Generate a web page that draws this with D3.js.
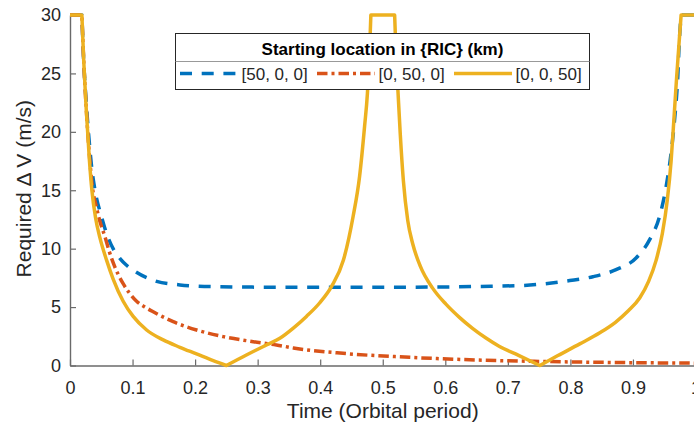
<!DOCTYPE html>
<html>
<head>
<meta charset="utf-8">
<script src="https://cdn.jsdelivr.net/npm/d3@7"></script>
<style>
  html, body { margin: 0; padding: 0; background: #fff; }
  svg { display: block; font-family: "Liberation Sans", Arial, Helvetica, sans-serif; }
</style>
</head>
<body>
<svg id="chart" width="694" height="426"></svg>
<script>
// ---- data ----
const xTicks = [0, 0.1, 0.2, 0.3, 0.4, 0.5, 0.6, 0.7, 0.8, 0.9, 1];
const yTicks = [0, 5, 10, 15, 20, 25, 30];
const seriesNames = ["[50, 0, 0]", "[0, 50, 0]", "[0, 0, 50]"];
const legendTitle = "Starting location in {RIC} (km)";
const xLabel = "Time (Orbital period)";
const yLabel = "Required \u0394 V (m/s)";

// [50, 0, 0] radial start
const timeR = [0, 0.019, 0.0215, 0.026, 0.031, 0.035, 0.04, 0.05, 0.056, 0.062, 0.07, 0.08, 0.09, 0.104, 0.1385, 0.1757, 0.229, 0.32, 0.4, 0.5, 0.6, 0.655, 0.724, 0.799, 0.836, 0.873, 0.905, 0.9265, 0.9425, 0.953, 0.961, 0.9665, 0.9717, 0.974, 0.977, 1];
const dvR   = [30, 30, 26.5, 22.5, 19, 16.8, 15, 12.8, 11.7, 10.8, 9.9, 9.15, 8.6, 8.05, 7.2, 6.9, 6.75, 6.7, 6.7, 6.7, 6.72, 6.77, 6.85, 7.27, 7.6, 8.2, 9.2, 10.75, 12.75, 15.3, 18.2, 21, 24.75, 27.6, 30, 30];

// [0, 50, 0] along-track start
const timeI = [0, 0.019, 0.022, 0.026, 0.031, 0.036, 0.042, 0.047, 0.056, 0.062, 0.069, 0.077, 0.085, 0.095, 0.1065, 0.12, 0.133, 0.165, 0.2023, 0.245, 0.293, 0.33, 0.357, 0.4366, 0.543, 0.65, 0.75, 0.85, 1];
const dvI   = [30, 30, 26, 22, 18, 15.2, 13.6, 12.5, 11.0, 9.9, 8.8, 7.8, 7.0, 6.2, 5.5, 5.0, 4.6, 3.75, 3.04, 2.47, 2.04, 1.76, 1.5, 1.04, 0.7, 0.47, 0.35, 0.27, 0.2];

// [0, 0, 50] cross-track start
const timeC = [0, 0.019, 0.022, 0.026, 0.031, 0.035, 0.041, 0.048, 0.0586, 0.069, 0.085, 0.101, 0.1225, 0.149, 0.1757, 0.2023, 0.229, 0.25, 0.282, 0.314, 0.3355, 0.357, 0.378, 0.399, 0.418, 0.437, 0.4526, 0.463, 0.471, 0.4755, 0.479, 0.481, 0.519, 0.521, 0.5245, 0.528, 0.533, 0.54, 0.548, 0.56, 0.58, 0.601, 0.623, 0.643, 0.665, 0.686, 0.718, 0.751, 0.78, 0.815, 0.847, 0.872, 0.893, 0.911, 0.925, 0.937, 0.947, 0.955, 0.961, 0.966, 0.97, 0.974, 0.977, 1];
const dvC   = [30, 30, 26, 21.9, 17.6, 15.0, 12.6, 10.9, 9.0, 7.4, 5.5, 4.2, 3.04, 2.19, 1.56, 0.99, 0.41, 0, 0.9, 1.76, 2.33, 3.2, 4.2, 5.35, 6.75, 9.0, 12.75, 16.2, 20.5, 23.3, 27, 30, 30, 27, 23.3, 19.8, 15.8, 12.4, 10.4, 8.5, 6.6, 5.25, 4.1, 3.2, 2.35, 1.65, 0.85, 0, 0.85, 1.85, 2.8, 3.7, 4.7, 5.8, 7.2, 9.0, 11.3, 14.2, 17.5, 21.5, 24.8, 27.8, 30, 30];

const colors = ["#0072BD", "#D95319", "#EDB120"];
const dashes = ["12,9.7", "10.5,4,3,4", null];

// ---- layout ----
const svg = d3.select("#chart");
const x = d3.scaleLinear().domain([0, 1]).range([70, 695.5]);
const y = d3.scaleLinear().domain([0, 30]).range([365.5, 15]);
const textColor = "#262626";
const axisColor = "#6a6a6a";

// axes (drawn beneath data)
const gx = svg.append("g").attr("transform", `translate(0,${y(0)})`)
  .call(d3.axisBottom(x).tickValues(xTicks).tickSize(-6).tickSizeOuter(0).tickPadding(16)
    .tickFormat(d3.format("~g")));
const gy = svg.append("g").attr("transform", `translate(${x(0)},0)`)
  .call(d3.axisLeft(y).tickValues(yTicks).tickSize(-6).tickSizeOuter(0).tickPadding(9));
[gx, gy].forEach(g => {
  g.select(".domain").attr("stroke", axisColor).attr("stroke-width", 1.4);
  g.selectAll(".tick line").attr("stroke", axisColor).attr("stroke-width", 1.2);
  g.selectAll(".tick text").attr("fill", textColor).attr("font-size", 18)
    .attr("font-family", "'Liberation Sans', Arial, sans-serif");
});

svg.append("text").attr("x", (x(0) + x(1)) / 2).attr("y", 418)
  .attr("text-anchor", "middle").attr("font-size", 21).attr("fill", textColor).text(xLabel);
svg.append("text").attr("transform", `translate(30.5,${(y(0) + y(30)) / 2 - 1.5}) rotate(-90)`)
  .attr("text-anchor", "middle").attr("font-size", 21).attr("fill", textColor).text(yLabel);

// ---- curves: piecewise monotone segments, split at direction changes ----
function buildPath(ts, vs) {
  const pts = ts.map((t, i) => [t, vs[i]]);
  const segs = [];
  let cur = [pts[0]], dir = null;
  for (let i = 1; i < pts.length; i++) {
    const d = Math.sign(pts[i][1] - pts[i - 1][1]);
    if (dir !== null && d !== dir) { segs.push(cur); cur = [pts[i - 1]]; }
    cur.push(pts[i]); dir = d;
  }
  segs.push(cur);
  const gen = d3.line().x(d => x(d[0])).y(d => y(d[1])).curve(d3.curveMonotoneX);
  return segs.map((s, i) => { const p = gen(s); return i === 0 ? p : p.replace(/^M/, "L"); }).join("");
}

const series = [[timeR, dvR], [timeI, dvI], [timeC, dvC]];
series.forEach((s, i) => {
  svg.append("path").attr("d", buildPath(s[0], s[1]))
    .attr("fill", "none").attr("stroke", colors[i]).attr("stroke-width", 3.5)
    .attr("stroke-linejoin", "round")
    .attr("stroke-dasharray", dashes[i]);
});

// ---- legend ----
const lg = svg.append("g");
lg.append("rect").attr("x", 175.5).attr("y", 33.5).attr("width", 414).attr("height", 56)
  .attr("fill", "#fff").attr("stroke", textColor).attr("stroke-width", 1);
lg.append("line").attr("x1", 175.5).attr("x2", 589.5).attr("y1", 61.5).attr("y2", 61.5)
  .attr("stroke", "#999").attr("stroke-width", 1);
lg.append("text").attr("x", 382.5).attr("y", 54.5).attr("text-anchor", "middle")
  .attr("font-size", 17).attr("font-weight", "bold").attr("fill", "#000").text(legendTitle);
const entryLineX = [180, 317, 454];
entryLineX.forEach((lx, i) => {
  lg.append("line").attr("x1", lx).attr("x2", lx + 58).attr("y1", 73.5).attr("y2", 73.5)
    .attr("stroke", colors[i]).attr("stroke-width", 3.5).attr("stroke-dasharray", dashes[i]);
  lg.append("text").attr("x", lx + 61.5).attr("y", 80).attr("font-size", 17)
    .attr("fill", textColor).text(seriesNames[i]);
});
</script>
</body>
</html>
